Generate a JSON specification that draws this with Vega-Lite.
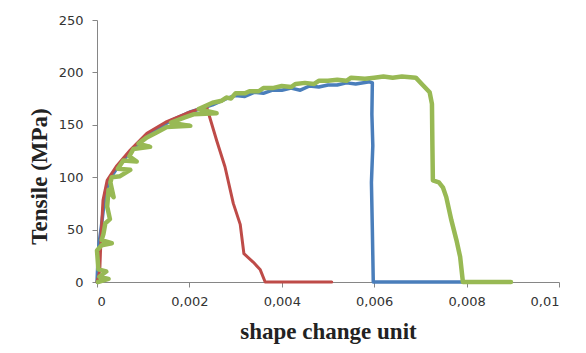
{
  "$schema": "https://vega.github.io/schema/vega-lite/v6.json",
  "width": 462,
  "height": 262,
  "autosize": {"type": "none"},
  "padding": {"left": 97, "top": 20, "right": 27, "bottom": 71},
  "background": "white",
  "config": {
    "view": {"stroke": null},
    "axis": {
      "grid": false,
      "domainColor": "#868686",
      "tickColor": "#868686",
      "tickSize": 5,
      "labelFont": "DejaVu Sans",
      "labelFontSize": 13,
      "labelColor": "#333333",
      "titleFont": "Liberation Serif",
      "titleFontWeight": "bold",
      "titleFontSize": 23,
      "titleColor": "#222222"
    }
  },
  "datasets": {
    "curves": [
      {"s": "blue", "i": 1, "x": 0, "y": 0},
      {"s": "blue", "i": 2, "x": 0.00002, "y": 20},
      {"s": "blue", "i": 3, "x": 0.00004, "y": 35},
      {"s": "blue", "i": 4, "x": 0.0001, "y": 55},
      {"s": "blue", "i": 5, "x": 0.00018, "y": 85},
      {"s": "blue", "i": 6, "x": 0.0003, "y": 100},
      {"s": "blue", "i": 7, "x": 0.0005, "y": 113},
      {"s": "blue", "i": 8, "x": 0.0008, "y": 128},
      {"s": "blue", "i": 9, "x": 0.0012, "y": 143},
      {"s": "blue", "i": 10, "x": 0.0016, "y": 154},
      {"s": "blue", "i": 11, "x": 0.002, "y": 162},
      {"s": "blue", "i": 12, "x": 0.0025, "y": 169},
      {"s": "blue", "i": 13, "x": 0.0028, "y": 175},
      {"s": "blue", "i": 14, "x": 0.003, "y": 178},
      {"s": "blue", "i": 15, "x": 0.0032, "y": 177},
      {"s": "blue", "i": 16, "x": 0.0034, "y": 181},
      {"s": "blue", "i": 17, "x": 0.0036, "y": 180},
      {"s": "blue", "i": 18, "x": 0.0038, "y": 183},
      {"s": "blue", "i": 19, "x": 0.004, "y": 183},
      {"s": "blue", "i": 20, "x": 0.0042, "y": 185},
      {"s": "blue", "i": 21, "x": 0.0044, "y": 183},
      {"s": "blue", "i": 22, "x": 0.0046, "y": 187},
      {"s": "blue", "i": 23, "x": 0.0048, "y": 186},
      {"s": "blue", "i": 24, "x": 0.005, "y": 188},
      {"s": "blue", "i": 25, "x": 0.0052, "y": 188},
      {"s": "blue", "i": 26, "x": 0.0054, "y": 190},
      {"s": "blue", "i": 27, "x": 0.0056, "y": 189},
      {"s": "blue", "i": 28, "x": 0.0059, "y": 191},
      {"s": "blue", "i": 29, "x": 0.00596, "y": 190},
      {"s": "blue", "i": 30, "x": 0.00595, "y": 160},
      {"s": "blue", "i": 31, "x": 0.00597, "y": 130},
      {"s": "blue", "i": 32, "x": 0.00594, "y": 95},
      {"s": "blue", "i": 33, "x": 0.00596, "y": 50},
      {"s": "blue", "i": 34, "x": 0.00598, "y": 0},
      {"s": "blue", "i": 35, "x": 0.0083, "y": 0},

      {"s": "red", "i": 1, "x": 0, "y": 0},
      {"s": "red", "i": 2, "x": 0.00003, "y": 5},
      {"s": "red", "i": 3, "x": 0.00006, "y": 11},
      {"s": "red", "i": 4, "x": 0.00009, "y": 46},
      {"s": "red", "i": 5, "x": 0.00013, "y": 78},
      {"s": "red", "i": 6, "x": 0.00022, "y": 97},
      {"s": "red", "i": 7, "x": 0.00043, "y": 111},
      {"s": "red", "i": 8, "x": 0.00072, "y": 126},
      {"s": "red", "i": 9, "x": 0.00108, "y": 142},
      {"s": "red", "i": 10, "x": 0.00151, "y": 153},
      {"s": "red", "i": 11, "x": 0.00194, "y": 161},
      {"s": "red", "i": 12, "x": 0.0022, "y": 165},
      {"s": "red", "i": 13, "x": 0.00238, "y": 166},
      {"s": "red", "i": 14, "x": 0.00259, "y": 135},
      {"s": "red", "i": 15, "x": 0.00277, "y": 110},
      {"s": "red", "i": 16, "x": 0.00295, "y": 75},
      {"s": "red", "i": 17, "x": 0.0031, "y": 55},
      {"s": "red", "i": 18, "x": 0.00318, "y": 27},
      {"s": "red", "i": 19, "x": 0.00338, "y": 19},
      {"s": "red", "i": 20, "x": 0.00353, "y": 12},
      {"s": "red", "i": 21, "x": 0.00364, "y": 0},
      {"s": "red", "i": 22, "x": 0.00508, "y": 0},

      {"s": "green", "i": 1, "x": 0.00002, "y": 0},
      {"s": "green", "i": 2, "x": 0.00025, "y": 3},
      {"s": "green", "i": 3, "x": 0.00005, "y": 5},
      {"s": "green", "i": 4, "x": 0.0002, "y": 10},
      {"s": "green", "i": 5, "x": 0.00003, "y": 12},
      {"s": "green", "i": 6, "x": 0, "y": 30},
      {"s": "green", "i": 7, "x": 0.0001, "y": 35},
      {"s": "green", "i": 8, "x": 0.00032, "y": 37},
      {"s": "green", "i": 9, "x": 0.0001, "y": 40},
      {"s": "green", "i": 10, "x": 0.00014, "y": 46},
      {"s": "green", "i": 11, "x": 0.00018, "y": 56},
      {"s": "green", "i": 12, "x": 0.00028, "y": 60},
      {"s": "green", "i": 13, "x": 0.00022, "y": 72},
      {"s": "green", "i": 14, "x": 0.00025, "y": 88},
      {"s": "green", "i": 15, "x": 0.00036, "y": 81},
      {"s": "green", "i": 16, "x": 0.00029, "y": 95},
      {"s": "green", "i": 17, "x": 0.00032, "y": 100},
      {"s": "green", "i": 18, "x": 0.0005, "y": 101},
      {"s": "green", "i": 19, "x": 0.00072, "y": 107},
      {"s": "green", "i": 20, "x": 0.00045, "y": 108},
      {"s": "green", "i": 21, "x": 0.00057, "y": 116},
      {"s": "green", "i": 22, "x": 0.00086, "y": 115},
      {"s": "green", "i": 23, "x": 0.0007, "y": 120},
      {"s": "green", "i": 24, "x": 0.00079, "y": 127},
      {"s": "green", "i": 25, "x": 0.00115, "y": 129},
      {"s": "green", "i": 26, "x": 0.0009, "y": 132},
      {"s": "green", "i": 27, "x": 0.00108, "y": 138},
      {"s": "green", "i": 28, "x": 0.0013, "y": 143},
      {"s": "green", "i": 29, "x": 0.00151, "y": 148},
      {"s": "green", "i": 30, "x": 0.00202, "y": 149},
      {"s": "green", "i": 31, "x": 0.0016, "y": 152},
      {"s": "green", "i": 32, "x": 0.0019, "y": 157},
      {"s": "green", "i": 33, "x": 0.00209, "y": 160},
      {"s": "green", "i": 34, "x": 0.00259, "y": 161},
      {"s": "green", "i": 35, "x": 0.0022, "y": 165},
      {"s": "green", "i": 36, "x": 0.0025, "y": 171},
      {"s": "green", "i": 37, "x": 0.0027, "y": 173},
      {"s": "green", "i": 38, "x": 0.0028, "y": 176},
      {"s": "green", "i": 39, "x": 0.0029, "y": 175},
      {"s": "green", "i": 40, "x": 0.003, "y": 180},
      {"s": "green", "i": 41, "x": 0.0032, "y": 180},
      {"s": "green", "i": 42, "x": 0.0033, "y": 182},
      {"s": "green", "i": 43, "x": 0.0035, "y": 182},
      {"s": "green", "i": 44, "x": 0.0036, "y": 185},
      {"s": "green", "i": 45, "x": 0.0038, "y": 185},
      {"s": "green", "i": 46, "x": 0.004, "y": 187},
      {"s": "green", "i": 47, "x": 0.0042, "y": 186},
      {"s": "green", "i": 48, "x": 0.0043, "y": 189},
      {"s": "green", "i": 49, "x": 0.0045, "y": 190},
      {"s": "green", "i": 50, "x": 0.0047, "y": 189},
      {"s": "green", "i": 51, "x": 0.0048, "y": 192},
      {"s": "green", "i": 52, "x": 0.005, "y": 192},
      {"s": "green", "i": 53, "x": 0.0052, "y": 193},
      {"s": "green", "i": 54, "x": 0.0054, "y": 192},
      {"s": "green", "i": 55, "x": 0.0055, "y": 195},
      {"s": "green", "i": 56, "x": 0.0058, "y": 194},
      {"s": "green", "i": 57, "x": 0.006, "y": 195},
      {"s": "green", "i": 58, "x": 0.0062, "y": 196},
      {"s": "green", "i": 59, "x": 0.0064, "y": 195},
      {"s": "green", "i": 60, "x": 0.0066, "y": 196},
      {"s": "green", "i": 61, "x": 0.0069, "y": 195},
      {"s": "green", "i": 62, "x": 0.00705, "y": 188},
      {"s": "green", "i": 63, "x": 0.0072, "y": 181},
      {"s": "green", "i": 64, "x": 0.00725, "y": 170},
      {"s": "green", "i": 65, "x": 0.00726, "y": 130},
      {"s": "green", "i": 66, "x": 0.00727, "y": 97},
      {"s": "green", "i": 67, "x": 0.0074, "y": 95},
      {"s": "green", "i": 68, "x": 0.00749, "y": 90},
      {"s": "green", "i": 69, "x": 0.00756, "y": 81},
      {"s": "green", "i": 70, "x": 0.00767, "y": 59},
      {"s": "green", "i": 71, "x": 0.00778, "y": 40},
      {"s": "green", "i": 72, "x": 0.00786, "y": 24},
      {"s": "green", "i": 73, "x": 0.00792, "y": 0},
      {"s": "green", "i": 74, "x": 0.00896, "y": 0}
    ]
  },
  "data": {"name": "curves"},
  "encoding": {
    "x": {
      "field": "x",
      "type": "quantitative",
      "scale": {"domain": [0, 0.01], "nice": false},
      "axis": {
        "values": [0, 0.002, 0.004, 0.006, 0.008, 0.01],
        "labelExpr": "replace(format(datum.value, '~g'), '.', ',')",
        "labelPadding": 8,
        "title": "shape change unit",
        "titleAnchor": "middle",
        "titleBaseline": "alphabetic",
        "titleY": 56
      }
    },
    "y": {
      "field": "y",
      "type": "quantitative",
      "scale": {"domain": [0, 250], "nice": false},
      "axis": {
        "values": [0, 50, 100, 150, 200, 250],
        "labelPadding": 9,
        "title": "Tensile (MPa)",
        "titleAngle": 270,
        "titleAlign": "center",
        "titleBaseline": "alphabetic",
        "titleX": -51,
        "titleY": 156
      }
    },
    "order": {"field": "i", "type": "quantitative"}
  },
  "layer": [
    {
      "transform": [{"filter": "datum.s === 'blue'"}],
      "mark": {"type": "line", "color": "#4A7EBB", "strokeWidth": 3.5, "strokeJoin": "round", "strokeCap": "round"}
    },
    {
      "transform": [{"filter": "datum.s === 'red'"}],
      "mark": {"type": "line", "color": "#BE4B48", "strokeWidth": 3, "strokeJoin": "round", "strokeCap": "round"}
    },
    {
      "transform": [{"filter": "datum.s === 'green'"}],
      "mark": {"type": "line", "color": "#98B954", "strokeWidth": 4.5, "strokeJoin": "round", "strokeCap": "round"}
    }
  ]
}
